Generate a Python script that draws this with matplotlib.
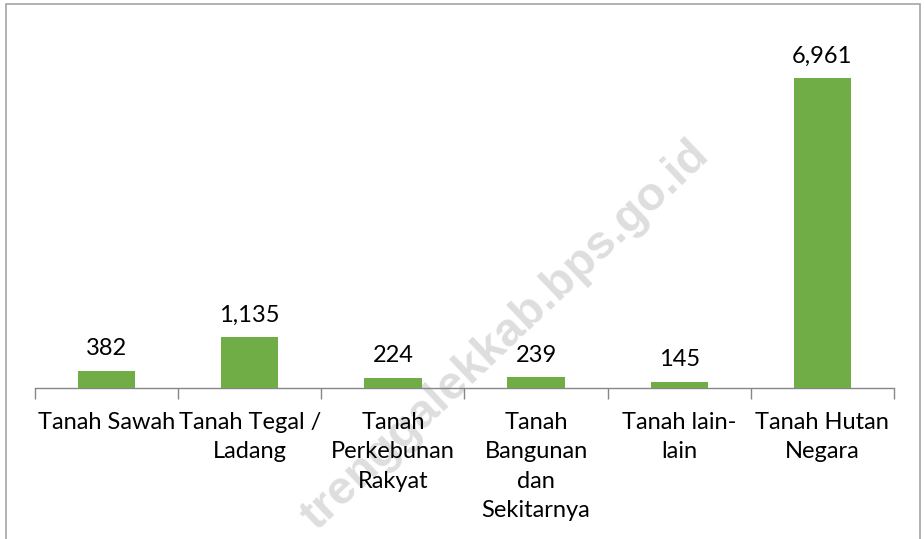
import matplotlib
matplotlib.use('Agg')
import matplotlib.pyplot as plt
from matplotlib.patches import Rectangle

# Data
categories = ["Tanah Sawah", "Tanah Tegal /\nLadang", "Tanah\nPerkebunan\nRakyat",
              "Tanah\nBangunan\ndan\nSekitarnya", "Tanah lain-\nlain", "Tanah Hutan\nNegara"]
values = [382, 1135, 224, 239, 145, 6961]
value_labels = ["382", "1,135", "224", "239", "145", "6,961"]

plt.rcParams['font.family'] = ['Lato', 'DejaVu Sans']

fig = plt.figure(figsize=(9.24, 5.39), dpi=100)
ax = fig.add_axes([35 / 924, 1 - 388 / 539, 859 / 924, 356 / 539])
ax.set_zorder(2)

# faint watermark behind everything
fig.text(505 / 924, 1 - 336 / 539, "trenggalekkab.bps.go.id", rotation=43.5,
         ha='center', va='center', fontsize=34, fontweight='bold',
         family='Liberation Sans', color='#dedede', zorder=0)
ax.set_facecolor('none')

x = list(range(len(categories)))
bars = ax.bar(x, values, width=0.4, color='#70AD47', zorder=3)

for xi, v, lab in zip(x, values, value_labels):
    ax.annotate(lab, (xi, v), xytext=(0, 8.5), textcoords='offset points',
                ha='center', va='bottom', fontsize=17, color='black', zorder=4)

ax.set_xlim(-0.5, len(categories) - 0.5)
ax.set_ylim(0, 8000)

ax.set_xticks(x)
ax.set_xticklabels(categories, fontsize=17, linespacing=1.5)
ax.tick_params(axis='x', which='major', length=0, pad=17)
ax.set_xticks([i - 0.5 for i in range(len(categories) + 1)], minor=True)
ax.tick_params(axis='x', which='minor', length=8, color='#868686', width=1)
ax.set_yticks([])

for s in ['top', 'right', 'left']:
    ax.spines[s].set_visible(False)
ax.spines['bottom'].set_color('#868686')
ax.spines['bottom'].set_linewidth(1)

# chart frame
fig.patches.append(Rectangle((6 / 924, -0.05), 914 / 924, 1.05 - 4 / 539,
                             transform=fig.transFigure, fill=False,
                             edgecolor='#a6a6a6', linewidth=1.2))

fig.savefig('out.png', dpi=100)
